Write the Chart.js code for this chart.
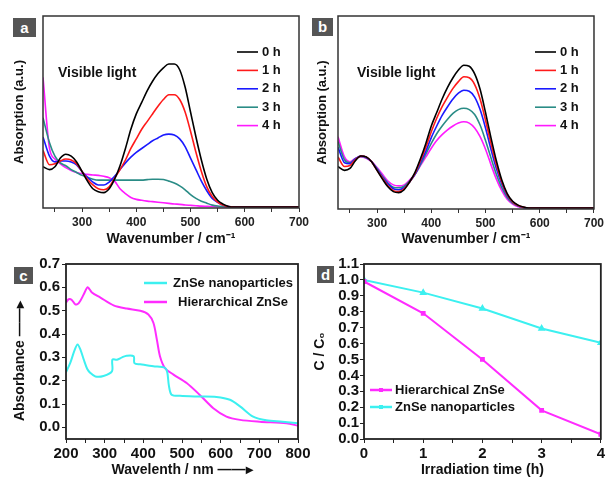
<!DOCTYPE html>
<html>
<head>
<meta charset="utf-8">
<script src="https://cdn.jsdelivr.net/npm/chart.js@4.4.0/dist/chart.umd.min.js"></script>
<style>
  body { margin: 0; background: #fff; }
  #wrap { position: relative; width: 607px; height: 479px; overflow: hidden; background: #fff; }
  #wrap canvas { position: absolute; left: 0; top: 0; }
  .tag { position: absolute; background: #555; color: #fff; font: bold 15px 'Liberation Sans', Arial, sans-serif; text-align: center; }
</style>
</head>
<body>
<div id="wrap">
  <canvas id="chartA" width="607" height="479"></canvas>
  <canvas id="chartB" width="607" height="479"></canvas>
  <canvas id="chartC" width="607" height="479"></canvas>
  <canvas id="chartD" width="607" height="479"></canvas>
  <div class="tag" style="left:13px;top:18px;width:23px;height:19px;line-height:19px">a</div>
  <div class="tag" style="left:312px;top:18px;width:21px;height:18px;line-height:18px">b</div>
  <div class="tag" style="left:14px;top:267px;width:19px;height:17px;line-height:17px">c</div>
  <div class="tag" style="left:317px;top:266px;width:17px;height:17px;line-height:17px">d</div>
</div>
<script>
Chart.defaults.font.family = "'Liberation Sans', Arial, sans-serif";
Chart.defaults.color = "#222";
Chart.defaults.animation = false;

// ---- panel a / b : spectra vs wavenumber ----
const wavenumber = [228, 240, 250, 260, 270, 280, 290, 300, 310, 320, 330, 340, 350, 360, 370, 380, 390, 400, 410, 420,
  430, 440, 450, 460, 470, 480, 490, 500, 510, 520, 530, 540, 550, 560, 570, 580, 600, 650, 700];
const hours = ["0 h", "1 h", "2 h", "3 h", "4 h"];

const a0h = [0.215, 0.20, 0.215, 0.26, 0.28, 0.27, 0.24, 0.19, 0.14, 0.10, 0.085, 0.08, 0.10, 0.15, 0.22, 0.31, 0.41, 0.49, 0.55, 0.61,
  0.66, 0.70, 0.73, 0.75, 0.75, 0.72, 0.63, 0.50, 0.37, 0.25, 0.15, 0.08, 0.04, 0.02, 0.008, 0.005, 0.005, 0.005, 0.005];
const a1h = [0.30, 0.225, 0.23, 0.245, 0.255, 0.25, 0.23, 0.19, 0.15, 0.12, 0.10, 0.095, 0.11, 0.155, 0.20, 0.25, 0.31, 0.36, 0.41, 0.45,
  0.49, 0.53, 0.565, 0.59, 0.59, 0.565, 0.50, 0.40, 0.29, 0.19, 0.11, 0.06, 0.03, 0.015, 0.007, 0.005, 0.005, 0.005, 0.005];
const a2h = [0.37, 0.27, 0.24, 0.245, 0.245, 0.24, 0.225, 0.19, 0.16, 0.135, 0.12, 0.12, 0.135, 0.165, 0.20, 0.235, 0.265, 0.29, 0.31, 0.33,
  0.35, 0.365, 0.38, 0.385, 0.38, 0.36, 0.32, 0.26, 0.20, 0.14, 0.09, 0.05, 0.03, 0.015, 0.007, 0.005, 0.005, 0.005, 0.005];
const a3h = [0.47, 0.34, 0.27, 0.235, 0.22, 0.20, 0.185, 0.17, 0.16, 0.15, 0.145, 0.145, 0.145, 0.145, 0.145, 0.145, 0.145, 0.145, 0.145, 0.148,
  0.15, 0.15, 0.148, 0.14, 0.13, 0.115, 0.095, 0.07, 0.05, 0.035, 0.025, 0.015, 0.01, 0.008, 0.006, 0.005, 0.005, 0.005, 0.005];
const a4h = [0.68, 0.31, 0.255, 0.23, 0.21, 0.195, 0.185, 0.178, 0.175, 0.172, 0.17, 0.165, 0.158, 0.14, 0.10, 0.075, 0.055, 0.045, 0.04, 0.036,
  0.033, 0.03, 0.027, 0.024, 0.021, 0.019, 0.016, 0.014, 0.012, 0.01, 0.009, 0.008, 0.007, 0.006, 0.006, 0.005, 0.005, 0.005, 0.005];

const b0h = [0.22, 0.20, 0.21, 0.25, 0.275, 0.27, 0.245, 0.20, 0.155, 0.115, 0.09, 0.085, 0.10, 0.14, 0.19, 0.26, 0.34, 0.43, 0.50, 0.57,
  0.63, 0.68, 0.72, 0.745, 0.74, 0.70, 0.62, 0.50, 0.37, 0.25, 0.15, 0.08, 0.04, 0.02, 0.01, 0.005, 0.005, 0.005, 0.005];
const b1h = [0.27, 0.22, 0.225, 0.255, 0.275, 0.27, 0.245, 0.20, 0.16, 0.12, 0.095, 0.09, 0.105, 0.14, 0.185, 0.25, 0.32, 0.40, 0.47, 0.53,
  0.58, 0.625, 0.66, 0.685, 0.68, 0.645, 0.57, 0.46, 0.34, 0.23, 0.14, 0.075, 0.037, 0.018, 0.009, 0.005, 0.005, 0.005, 0.005];
const b2h = [0.32, 0.24, 0.235, 0.26, 0.275, 0.268, 0.245, 0.205, 0.165, 0.13, 0.105, 0.10, 0.11, 0.14, 0.18, 0.24, 0.30, 0.37, 0.43, 0.485,
  0.53, 0.57, 0.60, 0.615, 0.61, 0.58, 0.515, 0.42, 0.31, 0.21, 0.13, 0.07, 0.035, 0.017, 0.008, 0.005, 0.005, 0.005, 0.005];
const b3h = [0.35, 0.255, 0.24, 0.26, 0.272, 0.265, 0.245, 0.21, 0.17, 0.135, 0.113, 0.11, 0.118, 0.145, 0.18, 0.23, 0.285, 0.34, 0.39, 0.43,
  0.465, 0.495, 0.515, 0.522, 0.515, 0.49, 0.435, 0.355, 0.265, 0.18, 0.11, 0.06, 0.03, 0.015, 0.008, 0.005, 0.005, 0.005, 0.005];
const b4h = [0.375, 0.27, 0.245, 0.262, 0.27, 0.263, 0.245, 0.215, 0.18, 0.145, 0.125, 0.12, 0.125, 0.15, 0.18, 0.225, 0.27, 0.315, 0.355, 0.385,
  0.41, 0.43, 0.445, 0.452, 0.445, 0.42, 0.375, 0.31, 0.23, 0.155, 0.095, 0.05, 0.025, 0.012, 0.007, 0.005, 0.005, 0.005, 0.005];

const wnTicks = [250, 300, 350, 400, 450, 500, 550, 600, 650, 700];

// ---- panel c : absorbance vs wavelength ----
const nanoWl = [200, 211, 222, 230, 238, 246, 255, 263, 276, 297, 319, 320, 332, 345, 357, 375, 377, 392, 426, 456,
  462, 466, 473, 495, 546, 589, 624, 650, 684, 718, 760, 800];
const nanoAbs = [0.236, 0.276, 0.33, 0.355, 0.33, 0.29, 0.25, 0.233, 0.218, 0.22, 0.24, 0.29, 0.29, 0.30, 0.307, 0.305, 0.275, 0.27, 0.262, 0.255,
  0.235, 0.18, 0.14, 0.135, 0.132, 0.13, 0.118, 0.09, 0.046, 0.03, 0.024, 0.017];
const hierWl = [200, 207, 215, 224, 233, 246, 256, 267, 289, 323, 357, 392, 413, 426, 435, 443, 456, 478, 512, 546,
  581, 615, 650, 701, 770, 800];
const hierAbs = [0.534, 0.549, 0.546, 0.527, 0.532, 0.57, 0.60, 0.578, 0.556, 0.523, 0.509, 0.50, 0.484, 0.448, 0.376, 0.305, 0.254, 0.226, 0.19, 0.139,
  0.082, 0.046, 0.032, 0.024, 0.017, 0.007];
const wlTicks = [200, 250, 300, 350, 400, 450, 500, 550, 600, 650, 700, 750, 800];
const absTicks = [0, 0.1, 0.2, 0.3, 0.4, 0.5, 0.6, 0.7];

// ---- panel d : C/C0 vs time ----
const timeH = [0, 1, 2, 3, 4];
const hierC = [0.99, 0.79, 0.50, 0.18, 0.03];
const nanoC = [1.00, 0.92, 0.82, 0.695, 0.605];
const timeTicks = [0, 0.5, 1, 1.5, 2, 2.5, 3, 3.5, 4];
const ratioTicks = [0, 0.1, 0.2, 0.3, 0.4, 0.5, 0.6, 0.7, 0.8, 0.9, 1.0, 1.1];

const specColors = ["#000000", "#ff1a1a", "#1a1aff", "#2a8c86", "#ff1aff"];
const cyan = "#3cf0f0";
const magenta = "#ff2cff";

// box round the plot area
const frame = {
  id: "frame",
  defaults: { color: "#333", width: 1.5 },
  afterDatasetsDraw(chart, args, opts) {
    const { ctx, chartArea: a } = chart;
    ctx.save();
    ctx.strokeStyle = opts.color;
    ctx.lineWidth = opts.width;
    ctx.strokeRect(a.left, a.top, a.right - a.left, a.bottom - a.top);
    ctx.restore();
  },
};

// legend drawn inside the plot area
const lineLegend = {
  id: "lineLegend",
  afterDraw(chart, args, opts) {
    if (!opts || !opts.x) return;
    const { ctx, chartArea: a } = chart;
    ctx.save();
    ctx.font = opts.font;
    ctx.textBaseline = "middle";
    ctx.fillStyle = "#111";
    chart.data.datasets.forEach((ds, i) => {
      const x = a.left + opts.x;
      const y = a.top + opts.y + i * opts.gap;
      ctx.strokeStyle = ds.borderColor;
      ctx.lineWidth = opts.lineWidth;
      ctx.beginPath();
      ctx.moveTo(x, y);
      ctx.lineTo(x + opts.len, y);
      ctx.stroke();
      if (opts.marker && ds.pointRadius) {
        ctx.fillStyle = ds.borderColor;
        ctx.fillRect(x + opts.len / 2 - 2, y - 2, 4, 4);
        ctx.fillStyle = "#111";
      }
      if (opts.center) {
        ctx.textAlign = "center";
        ctx.fillText(ds.label, a.left + opts.center, y);
      } else {
        ctx.textAlign = "left";
        ctx.fillText(ds.label, x + opts.len + opts.space, y);
      }
    });
    (opts.notes || []).forEach((n) => {
      ctx.font = n.font;
      ctx.textAlign = "left";
      ctx.fillText(n.text, a.left + n.x, a.top + n.y);
    });
    ctx.restore();
  },
};

Chart.register(frame, lineLegend);

function pts(xs, ys) {
  return xs.map((x, i) => ({ x: x, y: ys[i] }));
}

function fixedTicks(list) {
  return (scale) => {
    scale.ticks = list.map((v) => ({ value: v }));
  };
}

function spectraChart(id, series, padding, yWidth, xHeight, legendX) {
  return new Chart(document.getElementById(id), {
    type: "line",
    data: {
      datasets: series.map((s, i) => ({
        label: hours[i],
        data: pts(wavenumber, s),
        borderColor: specColors[i],
        borderWidth: 1.6,
        pointRadius: 0,
        cubicInterpolationMode: "monotone",
      })),
    },
    options: {
      responsive: false,
      layout: { padding: padding },
      plugins: {
        legend: { display: false },
        tooltip: { enabled: false },
        lineLegend: {
          x: legendX, y: 36, gap: 18.4, len: 21, space: 4, lineWidth: 1.6,
          font: "bold 13px 'Liberation Sans', Arial, sans-serif",
          notes: [{ text: "Visible light", x: legendX === 194 ? 15 : 19, y: 57, font: "bold 14px 'Liberation Sans', Arial, sans-serif" }],
        },
      },
      scales: {
        x: {
          type: "linear",
          min: 228,
          max: 700,
          afterBuildTicks: fixedTicks(wnTicks),
          afterFit: (s) => { s.height = xHeight; },
          grid: { drawOnChartArea: false, tickLength: 4, color: "#333" },
          border: { display: false },
          ticks: {
            autoSkip: false, maxRotation: 0, padding: 3, color: "#222",
            font: { size: 12, weight: "bold" },
            callback: (v) => (v % 100 === 0 ? String(v) : ""),
          },
          title: {
            display: true, text: "Wavenumber / cm\u207B\u00B9", padding: 0,
            font: { size: 14, weight: "bold" }, color: "#111",
          },
        },
        y: {
          min: 0,
          max: 1,
          afterFit: (s) => { s.width = yWidth; },
          grid: { display: false },
          border: { display: false },
          ticks: { display: false },
          title: {
            display: true, text: "Absorption (a.u.)", padding: 0,
            font: { size: 13, weight: "bold" }, color: "#111",
          },
        },
      },
    },
  });
}

spectraChart("chartA", [a0h, a1h, a2h, a3h, a4h], { left: 12, top: 16, right: 308, bottom: 231 }, 31, 40, 194);
spectraChart("chartB", [b0h, b1h, b2h, b3h, b4h], { left: 315, top: 16, right: 9, bottom: 231 }, 23, 39, 197);

const boldTick = { size: 15, weight: "bold" };

new Chart(document.getElementById("chartC"), {
  type: "line",
  data: {
    datasets: [
      { label: "ZnSe nanoparticles", data: pts(nanoWl, nanoAbs), borderColor: cyan, borderWidth: 2, pointRadius: 0, tension: 0.3 },
      { label: "Hierarchical ZnSe", data: pts(hierWl, hierAbs), borderColor: magenta, borderWidth: 2, pointRadius: 0, tension: 0.3 },
    ],
  },
  options: {
    responsive: false,
    layout: { padding: { left: 12, top: 264, right: 309, bottom: 0 } },
    plugins: {
      legend: { display: false },
      tooltip: { enabled: false },
      frame: { color: "#222", width: 1.8 },
      lineLegend: {
        x: 78, y: 19, gap: 19, len: 23, lineWidth: 2.5, center: 167,
        font: "bold 13px 'Liberation Sans', Arial, sans-serif",
      },
    },
    scales: {
      x: {
        type: "linear",
        min: 200,
        max: 800,
        afterBuildTicks: fixedTicks(wlTicks),
        afterFit: (s) => { s.height = 40; },
        grid: { drawOnChartArea: false, tickLength: 4, color: "#222" },
        border: { display: false },
        ticks: {
          autoSkip: false, maxRotation: 0, padding: 2, color: "#111", font: boldTick,
          callback: (v) => (v % 100 === 0 ? String(v) : ""),
        },
        title: {
          display: true, text: "Wavelenth / nm \u2014\u2014\u25B8", padding: 0,
          font: { size: 14, weight: "bold" }, color: "#111",
        },
      },
      y: {
        min: -0.05,
        max: 0.7,
        afterBuildTicks: fixedTicks(absTicks),
        afterFit: (s) => { s.width = 54; },
        grid: { drawOnChartArea: false, tickLength: 4, color: "#222" },
        border: { display: false },
        ticks: { autoSkip: false, padding: 2, color: "#111", font: boldTick, callback: (v) => v.toFixed(1) },
        title: {
          display: true, text: "Absorbance \u2014\u2014\u25B8     ", padding: 0,
          font: { size: 14, weight: "bold" }, color: "#111",
        },
      },
    },
  },
});

new Chart(document.getElementById("chartD"), {
  type: "line",
  data: {
    datasets: [
      { label: "Hierarchical ZnSe", data: pts(timeH, hierC), borderColor: magenta, backgroundColor: magenta, borderWidth: 2, pointRadius: 2, pointStyle: "rect" },
      { label: "ZnSe nanoparticles", data: pts(timeH, nanoC), borderColor: cyan, backgroundColor: cyan, borderWidth: 2, pointRadius: 2.5, pointStyle: "triangle" },
    ],
  },
  options: {
    responsive: false,
    layout: { padding: { left: 312, top: 264, right: 5, bottom: 0 } },
    plugins: {
      legend: { display: false },
      tooltip: { enabled: false },
      frame: { color: "#222", width: 1.8 },
      lineLegend: {
        x: 6, y: 126, gap: 17, len: 22, space: 3, lineWidth: 2.5, marker: true,
        font: "bold 13px 'Liberation Sans', Arial, sans-serif",
      },
    },
    scales: {
      x: {
        type: "linear",
        min: 0,
        max: 4,
        afterBuildTicks: fixedTicks(timeTicks),
        afterFit: (s) => { s.height = 40; },
        grid: { drawOnChartArea: false, tickLength: 4, color: "#222" },
        border: { display: false },
        ticks: {
          autoSkip: false, maxRotation: 0, padding: 2, color: "#111", font: boldTick,
          callback: (v) => (Number.isInteger(v) ? String(v) : ""),
        },
        title: {
          display: true, text: "Irradiation time (h)", padding: 0,
          font: { size: 14, weight: "bold" }, color: "#111",
        },
      },
      y: {
        min: 0,
        max: 1.1,
        afterBuildTicks: fixedTicks(ratioTicks),
        afterFit: (s) => { s.width = 52; },
        grid: { drawOnChartArea: false, tickLength: 4, color: "#222" },
        border: { display: false },
        ticks: { autoSkip: false, padding: 1, color: "#111", font: boldTick, callback: (v) => v.toFixed(1) },
        title: {
          display: true, text: "C / C\u2080", padding: 0,
          font: { size: 14, weight: "bold" }, color: "#111",
        },
      },
    },
  },
});
</script>
</body>
</html>
